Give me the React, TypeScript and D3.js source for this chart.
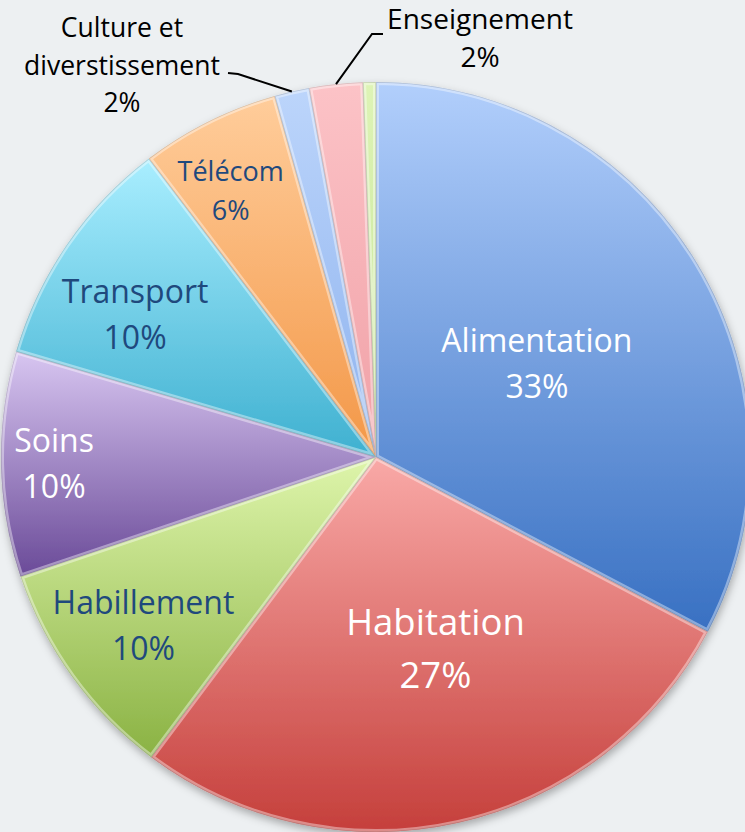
import React, { useRef, useEffect } from "react";
import * as d3 from "d3";

// données (parts en %)
const categories = [
  "Alimentation",
  "Habitation",
  "Habillement",
  "Soins",
  "Transport",
  "Télécom",
  "Culture et diverstissement",
  "Enseignement",
  "",
];
const values = [32.7, 27.5, 9.6, 9.7, 10.1, 6.0, 1.5, 2.3, 0.55];
const percentLabels = ["33%", "27%", "10%", "10%", "10%", "6%", "2%", "2%", ""];

// dégradés haut -> bas
const lightColors = ["#b2cffc", "#f9a9a7", "#def5ab", "#d8c6f1", "#a9eeff", "#ffcd9b", "#bcd5fb", "#fcc3c7", "#def4b6"];
const darkColors = ["#3870c2", "#c53f3b", "#8ab243", "#6a4a98", "#3eb0d0", "#f39747", "#8db2ee", "#f0a0a6", "#c4e396"];

// mise en page des étiquettes internes
const labelRadius = [186, 200, 287, 322, 280, 303];
const labelNudge = [1, -4.6, 0, 0, -3.9, -2.2];
const labelSize = [32, 36.5, 32, 32, 32, 27];
const labelColor = ["#ffffff", "#ffffff", "#1f497d", "#ffffff", "#1f497d", "#1f497d"];

// étiquettes externes avec traits de rappel
const outsideLabels = [
  { index: 6, lines: ["Culture et", "diverstissement", "2%"], x: 122, y: 37, size: 26.5, elbow: [238, 74], end: [228, 73] },
  { index: 7, lines: ["Enseignement", "2%"], x: 480, y: 29, size: 28, elbow: [372, 34], end: [383, 34] },
];

const W = 745;
const H = 832;

export default function App() {
  const ref = useRef<SVGSVGElement>(null);

  useEffect(() => {
    const svg = d3.select(ref.current);
    svg.selectAll("*").remove();

    const cx = 376;
    const cy = 457;
    const R = 375;
    const font = "'Open Sans', 'Noto Sans', sans-serif";

    svg.append("rect").attr("width", W).attr("height", H).attr("fill", "#edf0f2");

    const defs = svg.append("defs");
    const shadow = defs.append("filter").attr("id", "shadow").attr("x", "-10%").attr("y", "-10%").attr("width", "120%").attr("height", "120%");
    shadow
      .append("feDropShadow")
      .attr("dx", 1)
      .attr("dy", 4)
      .attr("stdDeviation", 4)
      .attr("flood-color", "#000")
      .attr("flood-opacity", 0.3);

    categories.forEach((_, i) => {
      const g = defs
        .append("linearGradient")
        .attr("id", `grad${i}`)
        .attr("x1", 0)
        .attr("y1", 0)
        .attr("x2", 0)
        .attr("y2", 1);
      g.append("stop").attr("offset", "0%").attr("stop-color", lightColors[i]);
      g.append("stop").attr("offset", "100%").attr("stop-color", darkColors[i]);
    });

    const pie = d3
      .pie<number>()
      .sort(null)
      .value((d) => d);
    const arcs = pie(values);
    const arc = d3.arc<d3.PieArcDatum<number>>().innerRadius(0).outerRadius(R);

    arcs.forEach((a, i) => {
      defs.append("clipPath").attr("id", `clip${i}`).append("path").attr("d", arc(a) as string);
    });

    const chart = svg.append("g").attr("transform", `translate(${cx},${cy})`);

    const slices = chart.append("g").attr("filter", "url(#shadow)");
    slices
      .selectAll("path.slice")
      .data(arcs)
      .enter()
      .append("path")
      .attr("class", "slice")
      .attr("d", (d) => arc(d) as string)
      .attr("fill", (d, i) => `url(#grad${i})`);

    // effet de biseau : liseré clair à l'intérieur de chaque part
    const bevel = chart.append("g");
    arcs.forEach((a, i) => {
      const g = bevel.append("g").attr("clip-path", `url(#clip${i})`);
      g.append("path")
        .attr("d", arc(a) as string)
        .attr("fill", "none")
        .attr("stroke", "#ffffff")
        .attr("stroke-opacity", 0.4)
        .attr("stroke-width", 6);
      g.append("path")
        .attr("d", arc(a) as string)
        .attr("fill", "none")
        .attr("stroke", "#000000")
        .attr("stroke-opacity", 0.15)
        .attr("stroke-width", 1.5);
    });

    // étiquettes internes
    const labels = chart.append("g").style("font-family", font);
    labelRadius.forEach((r, i) => {
      const a = arcs[i];
      const mid = (a.startAngle + a.endAngle) / 2 + (labelNudge[i] * Math.PI) / 180;
      const x = r * Math.sin(mid);
      const y = -r * Math.cos(mid);
      const fs = labelSize[i];
      const gap = fs * 1.45;
      const lines = [categories[i], percentLabels[i]];
      lines.forEach((t, k) => {
        labels
          .append("text")
          .attr("x", x)
          .attr("y", y + (k - (lines.length - 1) / 2) * gap + fs * 0.36)
          .attr("text-anchor", "middle")
          .style("font-size", `${fs}px`)
          .style("fill", labelColor[i])
          .text(t);
      });
    });

    // étiquettes externes
    const outer = svg.append("g").style("font-family", font);
    outsideLabels.forEach((o) => {
      const a = arcs[o.index];
      const mid = (a.startAngle + a.endAngle) / 2;
      const p0: [number, number] = [cx + R * Math.sin(mid), cy - R * Math.cos(mid)];
      outer
        .append("path")
        .attr("d", d3.line()([p0, o.elbow as [number, number], o.end as [number, number]]))
        .attr("fill", "none")
        .attr("stroke", "#000")
        .attr("stroke-width", 2);
      o.lines.forEach((t, k) => {
        outer
          .append("text")
          .attr("x", o.x)
          .attr("y", o.y + k * 37.5)
          .attr("text-anchor", "middle")
          .style("font-size", `${o.size}px`)
          .style("fill", "#000")
          .text(t);
      });
    });
  }, []);

  return (
    <div style={{ position: "fixed", left: 0, top: 0, width: W, height: H }}>
      <svg ref={ref} width={W} height={H}></svg>
    </div>
  );
}
